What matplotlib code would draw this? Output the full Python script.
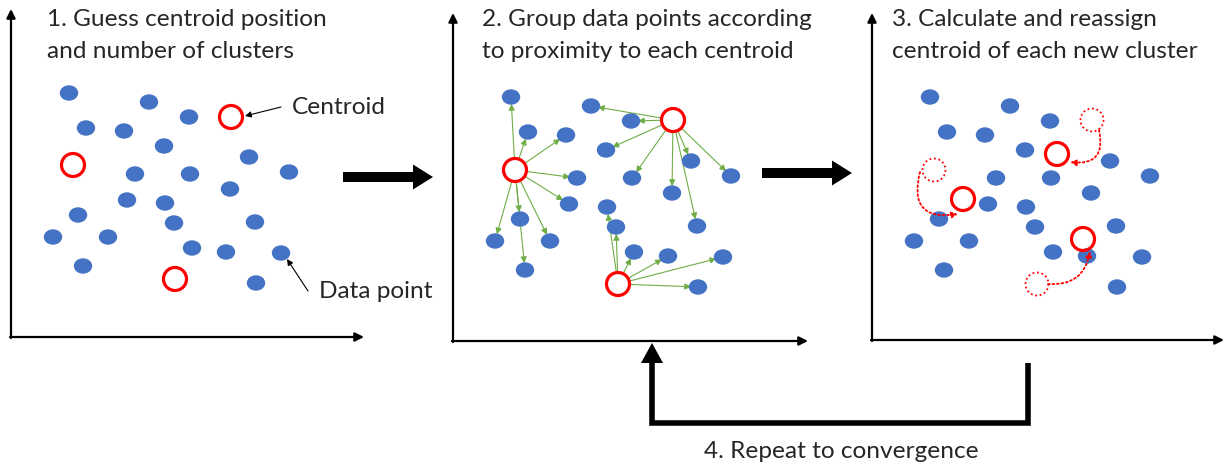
import numpy as np
import matplotlib.pyplot as plt
from matplotlib.patches import Ellipse, Circle, FancyArrow, FancyArrowPatch, Polygon

# base cloud of data points (panel 2 frame, pixels)
pts_x = [511, 591, 631, 528, 566, 606, 691, 577, 632, 731, 672, 569,
         607, 616, 520, 697, 495, 550, 634, 668, 723, 525, 698]
pts_y = [97, 106, 121, 132, 135, 150, 161, 178, 178, 176, 193, 204,
         207, 227, 219, 226, 241, 241, 252, 256, 257, 270, 287]

# panel shifts of the point cloud
panel_dx = [-442, 0, 419]
panel_dy = [-4, 0, 0]

# initial centroid guesses (panel 1 frame) and grouping centroids (panel 2 frame)
cen1_x = [231, 73, 175]
cen1_y = [117, 165, 279]
cen2_x = [515, 673, 618]
cen2_y = [170, 120, 284]

# point index assigned to each centroid in panel 2
groups = [
    [0, 3, 4, 7, 11, 14, 16, 17, 21],
    [1, 2, 5, 8, 6, 9, 10, 15],
    [12, 13, 18, 19, 20, 22],
]

# new centroids after update (panel 3)
cen3_x = [963, 1057, 1083]
cen3_y = [199, 154, 239]

titles = [["1. Guess centroid position", "and number of clusters"],
          ["2. Group data points according", "to proximity to each centroid"],
          ["3. Calculate and reassign", "centroid of each new cluster"]]
title_x = [47, 482, 892]
loop_label = "4. Repeat to convergence"

BLUE = '#4472C4'
RED = '#FF0000'
GREEN = '#70AD47'
TXT = '#262626'
FS = 17.6

plt.rcParams['font.family'] = ['Lato', 'DejaVu Sans']

fig = plt.figure(figsize=(12.24, 4.66), dpi=100)
ax = fig.add_axes([0, 0, 1, 1])
ax.set_xlim(0, 1224)
ax.set_ylim(466, 0)
ax.set_aspect('equal')
ax.axis('off')


def axis_arrows(x0, y0, x1, ytop):
    kw = dict(arrowstyle='-|>', lw=1.6, color='black', mutation_scale=13,
              shrinkA=0, shrinkB=0)
    ax.annotate('', xy=(x0, ytop), xytext=(x0, y0 + 1), arrowprops=kw)
    ax.annotate('', xy=(x1, y0), xytext=(x0 - 1, y0), arrowprops=kw)


axis_arrows(11, 337, 364, 9)
axis_arrows(453, 341, 808, 13)
axis_arrows(872, 340, 1224, 13)

for lines, tx in zip(titles, title_x):
    for k, line in enumerate(lines):
        ax.text(tx, 26 + 32 * k, line, fontsize=FS, color=TXT, va='baseline', ha='left')

# data points
for dx, dy in zip(panel_dx, panel_dy):
    for x, y in zip(pts_x, pts_y):
        ax.add_patch(Ellipse((x + dx, y + dy), 17, 14, color=BLUE, zorder=3))

# panel 1 centroids
for x, y in zip(cen1_x, cen1_y):
    ax.add_patch(Circle((x, y), 11.5, fill=False, ec=RED, lw=2.3, zorder=4))

ax.annotate('', xy=(245, 116), xytext=(281, 107),
            arrowprops=dict(arrowstyle='-|>', lw=0.8, color='black',
                            mutation_scale=9, shrinkA=0, shrinkB=0))
ax.text(292, 114, 'Centroid', fontsize=FS, color=TXT, va='baseline', ha='left')
ax.annotate('', xy=(287, 259), xytext=(308, 291),
            arrowprops=dict(arrowstyle='-|>', lw=0.8, color='black',
                            mutation_scale=9, shrinkA=0, shrinkB=0))
ax.text(319, 298, 'Data point', fontsize=FS, color=TXT, va='baseline', ha='left')

# panel 2: assignment arrows
for (cx, cy), idx in zip(zip(cen2_x, cen2_y), groups):
    for i in idx:
        ax.add_patch(FancyArrowPatch((cx, cy), (pts_x[i], pts_y[i]),
                                     arrowstyle='-|>', mutation_scale=9,
                                     lw=0.8, color=GREEN, shrinkA=8, shrinkB=5,
                                     zorder=2))
for x, y in zip(cen2_x, cen2_y):
    ax.add_patch(Circle((x, y), 11.5, fc='white', ec=RED, lw=2.3, zorder=4))

# panel 3: old (dotted) and new centroids
old3_x = [x + panel_dx[2] for x in cen2_x]
old3_y = [y + panel_dy[2] for y in cen2_y]
for x, y in zip(old3_x, old3_y):
    ax.add_patch(Circle((x, y), 11.5, fill=False, ec=RED, lw=1.3, ls=(0, (1, 1.5)),
                        zorder=4))
for x, y in zip(cen3_x, cen3_y):
    ax.add_patch(Circle((x, y), 11.5, fill=False, ec=RED, lw=2.3, zorder=4))

moves = [((920, 172), (958, 214), 0.75),
         ((1099, 130), (1070, 162), -0.7),
         ((1048, 284), (1090, 251), 0.45)]
for a, b, rad in moves:
    ax.add_patch(FancyArrowPatch(a, b, connectionstyle='arc3,rad=%.2f' % rad,
                                 arrowstyle='-|>', mutation_scale=9, lw=1.3,
                                 ls=(0, (1, 1.5)), color=RED, shrinkA=0,
                                 shrinkB=0, zorder=4))

# big step arrows
for x0, x1, y in [(343, 433, 177), (762, 852, 173)]:
    ax.add_patch(FancyArrow(x0, y, x1 - x0, 0, width=10, head_width=25,
                            head_length=20, length_includes_head=True,
                            color='black', lw=0))

# repeat loop
ax.plot([1028, 1028, 652, 652], [363, 423, 423, 362], color='black', lw=4,
        solid_joinstyle='miter', solid_capstyle='butt')
ax.add_patch(Polygon([(641, 363), (663, 363), (652, 343)], closed=True,
                     color='black', lw=0))
ax.text(841, 458, loop_label, fontsize=FS, color=TXT, ha='center', va='baseline')

fig.savefig('out.png', dpi=100)
